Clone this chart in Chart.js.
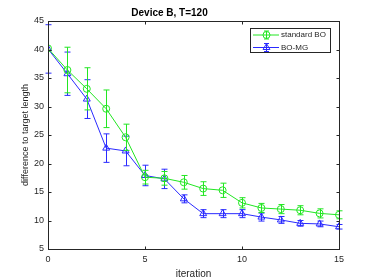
<!DOCTYPE html>
<html><head><meta charset="utf-8">
<style>html,body{margin:0;padding:0;background:#fff}#w{width:374px;height:280px}</style>
<script src="https://cdn.jsdelivr.net/npm/chart.js@4/dist/chart.umd.min.js"></script>
</head><body><div id="w"><canvas id="c" width="374" height="280"></canvas></div>
<script>
const iterations = [0,1,2,3,4,5,6,7,8,9,10,11,12,13,14,15];
const standardBO    = [40.2,36.4,33.1,29.6,24.6,17.6,17.4,16.7,15.6,15.3,13.1,12.2,12.0,11.8,11.25,11.0];
const standardBOErr = [0.0,4.0,3.7,3.3,2.3,1.2,1.2,1.2,1.2,1.25,0.9,0.8,0.8,0.8,0.8,0.7];
const boMG          = [40.1,35.75,31.3,22.7,22.2,17.9,17.3,13.8,11.2,11.2,11.2,10.6,10.1,9.5,9.4,8.9];
const boMGErr       = [4.25,3.8,3.4,2.5,2.6,1.8,1.7,0.7,0.7,0.7,0.7,0.7,0.6,0.5,0.5,0.4];
const xTicks = [0,5,10,15];
const yTicks = [5,10,15,20,25,30,35,40,45];
const seriesNames = ['standard BO','BO-MG'];

const GREEN = '#22e622';
const BLUE = '#2a2aff';
const AX = '#262626';
const FONT = '"Liberation Sans", Arial, Helvetica, sans-serif';

const errs = [standardBOErr, boMGErr];

const errorBars = {
  id: 'errorBars',
  afterDatasetDraw(chart, args) {
    const ctx = chart.ctx;
    const ds = chart.data.datasets[args.index];
    const e = errs[args.index];
    const xs = chart.scales.x, ys = chart.scales.y;
    ctx.save();
    ctx.strokeStyle = ds.borderColor;
    ctx.lineWidth = 1;
    ds.data.forEach((p, i) => {
      if (!e[i]) return;
      const px = Math.round(xs.getPixelForValue(p.x)) + 0.5;
      const y1 = ys.getPixelForValue(p.y + e[i]);
      const y2 = ys.getPixelForValue(p.y - e[i]);
      ctx.beginPath();
      ctx.moveTo(px, y1); ctx.lineTo(px, y2);
      ctx.moveTo(px - 3, y1); ctx.lineTo(px + 3, y1);
      ctx.moveTo(px - 3, y2); ctx.lineTo(px + 3, y2);
      ctx.stroke();
    });
    ctx.restore();
  }
};

const frame = {
  id: 'frame',
  afterDraw(chart) {
    const ctx = chart.ctx;
    const a = chart.chartArea;
    const xs = chart.scales.x, ys = chart.scales.y;
    const L = Math.round(a.left) + 0.5, R = Math.round(a.right) + 0.5;
    const T = Math.round(a.top) + 0.5, B = Math.round(a.bottom) + 0.5;
    ctx.save();
    ctx.strokeStyle = AX;
    ctx.lineWidth = 1;
    ctx.strokeRect(L, T, R - L, B - T);
    ctx.beginPath();
    xTicks.forEach(v => {
      const px = Math.round(xs.getPixelForValue(v)) + 0.5;
      ctx.moveTo(px, B); ctx.lineTo(px, B - 3);
      ctx.moveTo(px, T); ctx.lineTo(px, T + 3);
    });
    yTicks.forEach(v => {
      const py = Math.round(ys.getPixelForValue(v)) + 0.5;
      ctx.moveTo(L, py); ctx.lineTo(L + 3, py);
      ctx.moveTo(R, py); ctx.lineTo(R - 3, py);
    });
    ctx.stroke();

    // legend
    const bx = 250.5, by = 28.5, bw = 80, bh = 24;
    ctx.fillStyle = '#fff';
    ctx.fillRect(bx, by, bw, bh);
    ctx.strokeStyle = AX;
    ctx.strokeRect(bx, by, bw, bh);
    const rows = [35, 47.5];
    chart.data.datasets.forEach((ds, i) => {
      const y = rows[i];
      ctx.strokeStyle = ds.borderColor;
      ctx.lineWidth = 1;
      ctx.beginPath();
      ctx.moveTo(253, y); ctx.lineTo(279, y);
      ctx.moveTo(266.5, y - 4); ctx.lineTo(266.5, y + 4);
      ctx.moveTo(264, y - 4); ctx.lineTo(269, y - 4);
      ctx.moveTo(264, y + 4); ctx.lineTo(269, y + 4);
      ctx.stroke();
      ctx.fillStyle = 'rgba(0,0,0,0)';
      Chart.helpers.drawPoint(ctx, {pointStyle: ds.pointStyle, radius: ds.pointRadius, rotation: 0, borderWidth: 1}, 266.5, y);
      ctx.fillStyle = AX;
      ctx.font = '8px ' + FONT;
      ctx.textBaseline = 'middle';
      ctx.textAlign = 'left';
      ctx.fillText(ds.label, 281, y);
    });
    ctx.restore();
  }
};

new Chart(document.getElementById('c'), {
  type: 'line',
  data: {
    datasets: [
      {
        label: seriesNames[0],
        data: iterations.map((x, i) => ({x, y: standardBO[i]})),
        borderColor: GREEN, backgroundColor: 'rgba(0,0,0,0)',
        borderWidth: 1, pointStyle: 'circle', pointRadius: 3.5,
        pointBorderColor: GREEN, pointBackgroundColor: 'rgba(0,0,0,0)', pointBorderWidth: 1,
        tension: 0
      },
      {
        label: seriesNames[1],
        data: iterations.map((x, i) => ({x, y: boMG[i]})),
        borderColor: BLUE, backgroundColor: 'rgba(0,0,0,0)',
        borderWidth: 1, pointStyle: 'triangle', pointRadius: 4,
        pointBorderColor: BLUE, pointBackgroundColor: 'rgba(0,0,0,0)', pointBorderWidth: 1,
        tension: 0
      }
    ]
  },
  options: {
    responsive: false,
    animation: false,
    devicePixelRatio: 1,
    layout: {padding: {left: 0, right: 35, top: 0, bottom: 0}},
    plugins: {
      legend: {display: false},
      tooltip: {enabled: false},
      title: {
        display: true, text: 'Device B, T=120', color: '#000',
        font: {family: FONT, size: 10, weight: 'bold'},
        padding: {top: 7, bottom: 2}
      }
    },
    scales: {
      x: {
        type: 'linear', min: 0, max: 15,
        grid: {display: false, drawTicks: false},
        border: {display: false},
        afterBuildTicks(s) { s.ticks = xTicks.map(v => ({value: v})); },
        afterFit(s) { s.height = 31; },
        ticks: {color: AX, font: {family: FONT, size: 9}, padding: 5, maxRotation: 0},
        title: {display: true, text: 'iteration', color: AX, font: {family: FONT, size: 10}, padding: {top: 0, bottom: 0}}
      },
      y: {
        type: 'linear', min: 5, max: 45,
        grid: {display: false, drawTicks: false},
        border: {display: false},
        afterBuildTicks(s) { s.ticks = yTicks.map(v => ({value: v})); },
        afterFit(s) { s.width = 48; },
        ticks: {color: AX, font: {family: FONT, size: 9}, padding: 4},
        title: {display: true, text: 'difference to target length', color: AX, font: {family: FONT, size: 9}, padding: {top: 20.5, bottom: 0}}
      }
    }
  },
  plugins: [errorBars, frame]
});
</script>
</body></html>
